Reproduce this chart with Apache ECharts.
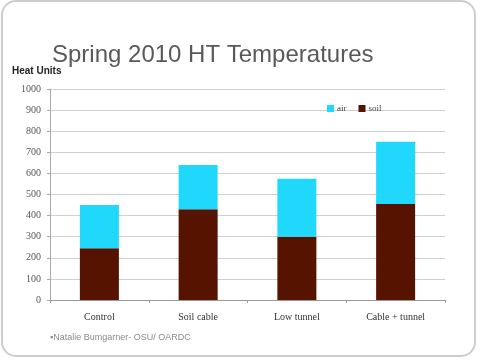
<!DOCTYPE html>
<html><head><meta charset="utf-8">
<script src="https://cdn.jsdelivr.net/npm/echarts@6/dist/echarts.min.js"></script>
<style>html,body{margin:0;padding:0;background:#fff}#c{width:480px;height:360px}</style>
</head><body><div id="c"></div>
<script>
var categories = ['Control', 'Soil cable', 'Low tunnel', 'Cable + tunnel'];
var soil = [245, 430, 300, 455];
var air = [205, 210, 275, 295];
var yTicks = [0, 100, 200, 300, 400, 500, 600, 700, 800, 900, 1000];

var chart = echarts.init(document.getElementById('c'), null, {renderer: 'canvas'});
var serif = '"Liberation Serif", "DejaVu Serif", serif';
var sans = '"Liberation Sans", Arial, sans-serif';
chart.setOption({
  animation: false,
  backgroundColor: '#fff',
  graphic: [
    {type: 'rect', z: -10, shape: {x: 2, y: 1, width: 473, height: 355, r: 14},
     style: {fill: '#fff', stroke: '#cdcdcd', lineWidth: 2}},
    {type: 'text', left: 52, top: 43, style: {text: 'Spring 2010 HT Temperatures', font: '24px ' + sans, fill: '#595959'}},
    {type: 'text', left: 12, top: 66, style: {text: 'Heat Units', font: 'bold 10px ' + sans, fill: '#222'}},
    {type: 'text', left: 50, top: 333, style: {text: '\u25AANatalie Bumgarner- OSU/ OARDC', font: '9px ' + sans, fill: '#8a8a8a'}}
  ],
  legend: {
    left: 322, top: 99, itemWidth: 7, itemHeight: 7, itemGap: 12,
    icon: 'rect',
    data: ['air', 'soil'],
    textStyle: {fontFamily: serif, fontSize: 9, color: '#444', padding: [0, 0, 0, -2]}
  },
  grid: {left: 50, right: 35, top: 89, bottom: 60},
  xAxis: {
    type: 'category', data: categories,
    axisLine: {lineStyle: {color: '#999'}},
    axisTick: {show: true, length: 3, lineStyle: {color: '#999'}},
    axisLabel: {fontFamily: serif, fontSize: 10, color: '#333', margin: 12}
  },
  yAxis: {
    type: 'value', min: yTicks[0], max: yTicks[yTicks.length - 1], interval: 100,
    axisLine: {show: true, lineStyle: {color: '#aaa'}},
    axisTick: {show: true, length: 3, lineStyle: {color: '#aaa'}},
    splitLine: {lineStyle: {color: '#cfcfcf'}},
    axisLabel: {fontFamily: serif, fontSize: 10, color: '#555', margin: 9, formatter: function (v) { return String(v); }}
  },
  series: [
    {name: 'soil', type: 'bar', stack: 't', data: soil, barWidth: 39, itemStyle: {color: '#561300'}},
    {name: 'air', type: 'bar', stack: 't', data: air, barWidth: 39, itemStyle: {color: '#1fd8fb'}}
  ]
});
</script></body></html>
